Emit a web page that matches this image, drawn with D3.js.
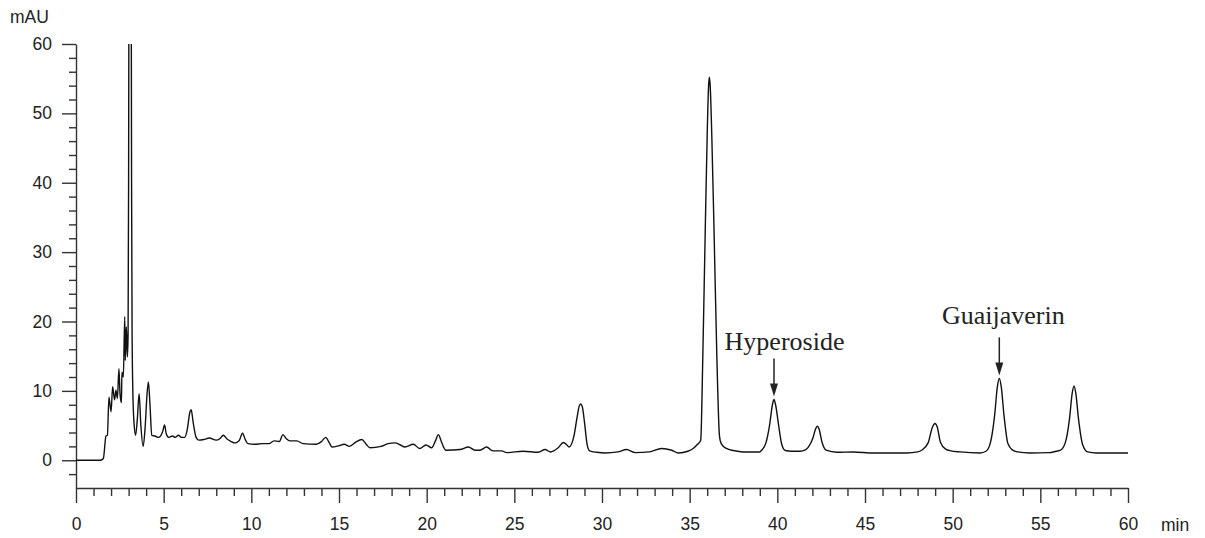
<!DOCTYPE html>
<html>
<head>
<meta charset="utf-8">
<script src="https://cdn.jsdelivr.net/npm/d3@7"></script>
<style>
  html, body { margin: 0; padding: 0; background: #fff; }
  svg { display: block; }
</style>
</head>
<body>
<svg id="chart" width="1205" height="538"></svg>
<script>
// ---- data ----
const times = [
  0, 1.4, 1.56, 1.71, 1.79, 1.88, 2.0, 2.09, 2.2, 2.28, 2.36, 2.45, 2.51, 2.59, 2.62, 2.7, 2.78, 2.81, 2.87, 2.93,
  2.97, 3.0, 3.02, 3.09, 3.15, 3.17, 3.2, 3.25, 3.32, 3.4,
  3.5, 3.6, 3.7, 3.83, 3.95, 4.05, 4.13, 4.22, 4.32, 4.5, 4.7, 4.85, 4.95, 5.05, 5.15, 5.3, 5.5, 5.65, 5.85, 6.0,
  6.2, 6.35, 6.5, 6.57, 6.68, 6.85, 7.0, 7.3, 7.6, 8.0, 8.2, 8.4, 8.6, 8.85, 9.07, 9.3, 9.5, 9.65, 9.8, 10.2,
  10.6, 11.0, 11.3, 11.6, 11.8, 12.0, 12.2, 12.6, 12.95, 13.7, 14.0, 14.24, 14.45, 14.6, 15.0, 15.3, 15.6, 15.95, 16.3, 16.55,
  16.77, 17.4, 17.8, 18.2, 18.5, 18.76, 19.24, 19.6, 19.96, 20.29, 20.5, 20.67, 20.85, 21.1, 21.9, 22.38, 22.76, 23.04, 23.42, 23.77,
  24.28, 24.56, 25.5, 26.37, 26.75, 27.07, 27.5, 27.8, 28.0, 28.12, 28.4, 28.58, 28.7, 28.78, 28.87, 29.0, 29.15, 29.3, 29.7, 30.17,
  30.9, 31.4, 31.9, 32.7, 33.4, 33.98, 34.35, 34.9, 35.2, 35.45, 35.63, 35.75, 35.88, 36.0, 36.08, 36.12, 36.17, 36.26, 36.4, 36.55,
  36.7, 36.8, 37.1, 37.5, 38.06, 39.0, 39.1, 39.35, 39.56, 39.72, 39.81, 39.9, 40.07, 40.25, 40.45, 40.8, 41.29, 41.6, 41.77, 42.03,
  42.18, 42.28, 42.38, 42.55, 42.78, 43.39, 44.33, 45.47, 47.38, 48.0, 48.23, 48.6, 48.85, 48.99, 49.12, 49.3, 49.6, 49.9, 50.42, 51.56,
  51.9, 52.15, 52.39, 52.55, 52.66, 52.77, 52.93, 53.15, 53.4, 53.7, 54.41, 55.5, 55.9, 56.15, 56.42, 56.66, 56.82, 56.92, 57.02, 57.18,
  57.42, 57.7, 58.2, 60
];
const absorbance = [
  0, 0, 0.25, 3.5, 3.6, 9.1, 7.0, 10.6, 8.7, 10.1, 8.9, 13.2, 9.6, 8.3, 12.7, 12.0, 20.7, 14.4, 19.2, 14.9,
  18, 40, 70, 130, 70, 40, 18, 9, 5, 3.6,
  6.0, 9.6, 5.0, 2.0, 5.0, 9.5, 11.3, 8.0, 3.6, 3.5, 3.3, 3.6, 4.2, 5.1, 3.8, 3.3, 3.5, 3.3, 3.6, 3.3,
  3.3, 4.5, 7.0, 7.3, 5.5, 3.3, 2.9, 3.0, 3.2, 2.9, 3.1, 3.6, 3.1, 2.7, 2.5, 2.8, 3.9, 3.0, 2.4, 2.3,
  2.4, 2.4, 2.8, 2.7, 3.7, 3.1, 2.8, 2.8, 2.4, 2.3, 2.7, 3.3, 2.5, 1.9, 2.1, 2.3, 2.0, 2.6, 3.0, 2.3,
  1.8, 2.0, 2.4, 2.5, 2.2, 1.9, 2.3, 1.7, 2.2, 1.8, 2.8, 3.7, 2.6, 1.44, 1.54, 1.9, 1.44, 1.44, 1.9, 1.35,
  1.35, 1.1, 1.3, 1.15, 1.54, 1.2, 1.8, 2.55, 2.2, 1.9, 3.5, 6.2, 7.8, 8.1, 7.8, 5.5, 2.3, 1.35, 1.15, 1.05,
  1.2, 1.54, 1.1, 1.2, 1.7, 1.44, 1.05, 1.3, 1.7, 2.3, 2.9, 15, 32, 47, 54, 55.2, 54, 47, 32, 15,
  3.5, 2.4, 1.7, 1.4, 1.2, 1.2, 1.44, 2.5, 5.1, 8.0, 8.76, 8.0, 5.1, 2.3, 1.4, 1.3, 1.3, 1.5, 1.9, 3.2,
  4.5, 4.9, 4.5, 2.6, 1.45, 1.15, 1.2, 1.05, 1.05, 1.2, 1.44, 2.5, 4.8, 5.3, 4.8, 2.6, 1.6, 1.35, 1.2, 1.05,
  1.3, 2.5, 6.4, 10.6, 11.8, 10.6, 6.4, 2.4, 1.5, 1.2, 1.05, 1.1, 1.3, 1.45, 2.5, 5.9, 9.7, 10.7, 9.7, 5.9,
  2.2, 1.2, 1.05, 1.05
];
const xMajorTicks = [0, 5, 10, 15, 20, 25, 30, 35, 40, 45, 50, 55, 60];
const yMajorTicks = [0, 10, 20, 30, 40, 50, 60];
const annotationLabels = ["Hyperoside", "Guaijaverin"];
const annotationTimes = [39.81, 52.66];
const annotationValues = [8.76, 11.8];
const xTitle = "min";
const yTitle = "mAU";

// ---- layout ----
const svg = d3.select("#chart");
const mLeft = 76, mRight = 1128, mTop = 44, mBottom = 488;
const x = d3.scaleLinear().domain([0, 60]).range([mLeft, mRight]);
const y = d3.scaleLinear().domain([-4, 60]).range([mBottom, mTop]);
const axisColor = "#333";
const font = "'Liberation Sans', Arial, Helvetica, sans-serif";
const fontSize = "17.5px";

const xMinor = d3.range(0, 61, 1).filter(v => v % 5 !== 0);
const yMinor = d3.range(-2, 60, 2).filter(v => v % 10 !== 0);

function styleAxis(g) {
  g.selectAll("path.domain").attr("stroke", axisColor).attr("stroke-width", 1.4);
  g.selectAll(".tick line").attr("stroke", axisColor).attr("stroke-width", 1.4);
  g.selectAll(".tick text").attr("fill", "#222").style("font-family", font).style("font-size", fontSize);
}

// x axis
svg.append("g").attr("transform", `translate(0,${mBottom})`)
  .call(d3.axisBottom(x).tickValues(xMinor).tickSize(8).tickFormat(""))
  .call(g => g.select("path.domain").remove())
  .call(styleAxis);
svg.append("g").attr("transform", `translate(0,${mBottom})`)
  .call(d3.axisBottom(x).tickValues(xMajorTicks).tickSize(15).tickSizeOuter(0).tickPadding(15).tickFormat(d3.format("d")))
  .call(styleAxis);

// y axis
svg.append("g").attr("transform", `translate(${mLeft},0)`)
  .call(d3.axisLeft(y).tickValues(yMinor).tickSize(7).tickFormat(""))
  .call(g => g.select("path.domain").remove())
  .call(styleAxis);
svg.append("g").attr("transform", `translate(${mLeft},0)`)
  .call(d3.axisLeft(y).tickValues(yMajorTicks).tickSize(14).tickSizeOuter(0).tickPadding(10).tickFormat(d3.format("d")))
  .call(styleAxis);

// axis titles
svg.append("text").attr("x", 10).attr("y", 23)
  .style("font-family", font).style("font-size", fontSize).attr("fill", "#222").text(yTitle);
svg.append("text").attr("x", 1161).attr("y", 531)
  .style("font-family", font).style("font-size", fontSize).attr("fill", "#222").text(xTitle);

// clip
const defs = svg.append("defs");
defs.append("clipPath").attr("id", "plotclip")
  .append("rect").attr("x", mLeft).attr("y", mTop).attr("width", mRight - mLeft + 2).attr("height", mBottom - mTop);

const data = times.map((t, i) => ({ t, v: absorbance[i] }));
const line = d3.line().x(d => x(d.t)).y(d => y(d.v)).curve(d3.curveMonotoneX);
svg.append("path").datum(data)
  .attr("clip-path", "url(#plotclip)")
  .attr("fill", "none").attr("stroke", "#111").attr("stroke-width", 1.4)
  .attr("stroke-linejoin", "round")
  .attr("d", line);

// annotations
const textOffsets = [10.5, 4];
const textRise = [46, 51];
annotationLabels.forEach((lab, i) => {
  const ax = x(annotationTimes[i]);
  const tipY = y(annotationValues[i]) - 3;
  svg.append("line").attr("x1", ax).attr("x2", ax)
    .attr("y1", tipY - 38).attr("y2", tipY - 12)
    .attr("stroke", "#222").attr("stroke-width", 1.5);
  svg.append("path")
    .attr("d", `M${ax - 4},${tipY - 13} L${ax + 4},${tipY - 13} L${ax},${tipY} Z`)
    .attr("fill", "#222");
  svg.append("text").attr("x", ax + textOffsets[i]).attr("y", tipY - textRise[i])
    .attr("text-anchor", "middle")
    .style("font-family", "'Liberation Serif', 'Times New Roman', Times, serif")
    .style("font-size", "26px").attr("fill", "#222").text(lab);
});
</script>
</body>
</html>
